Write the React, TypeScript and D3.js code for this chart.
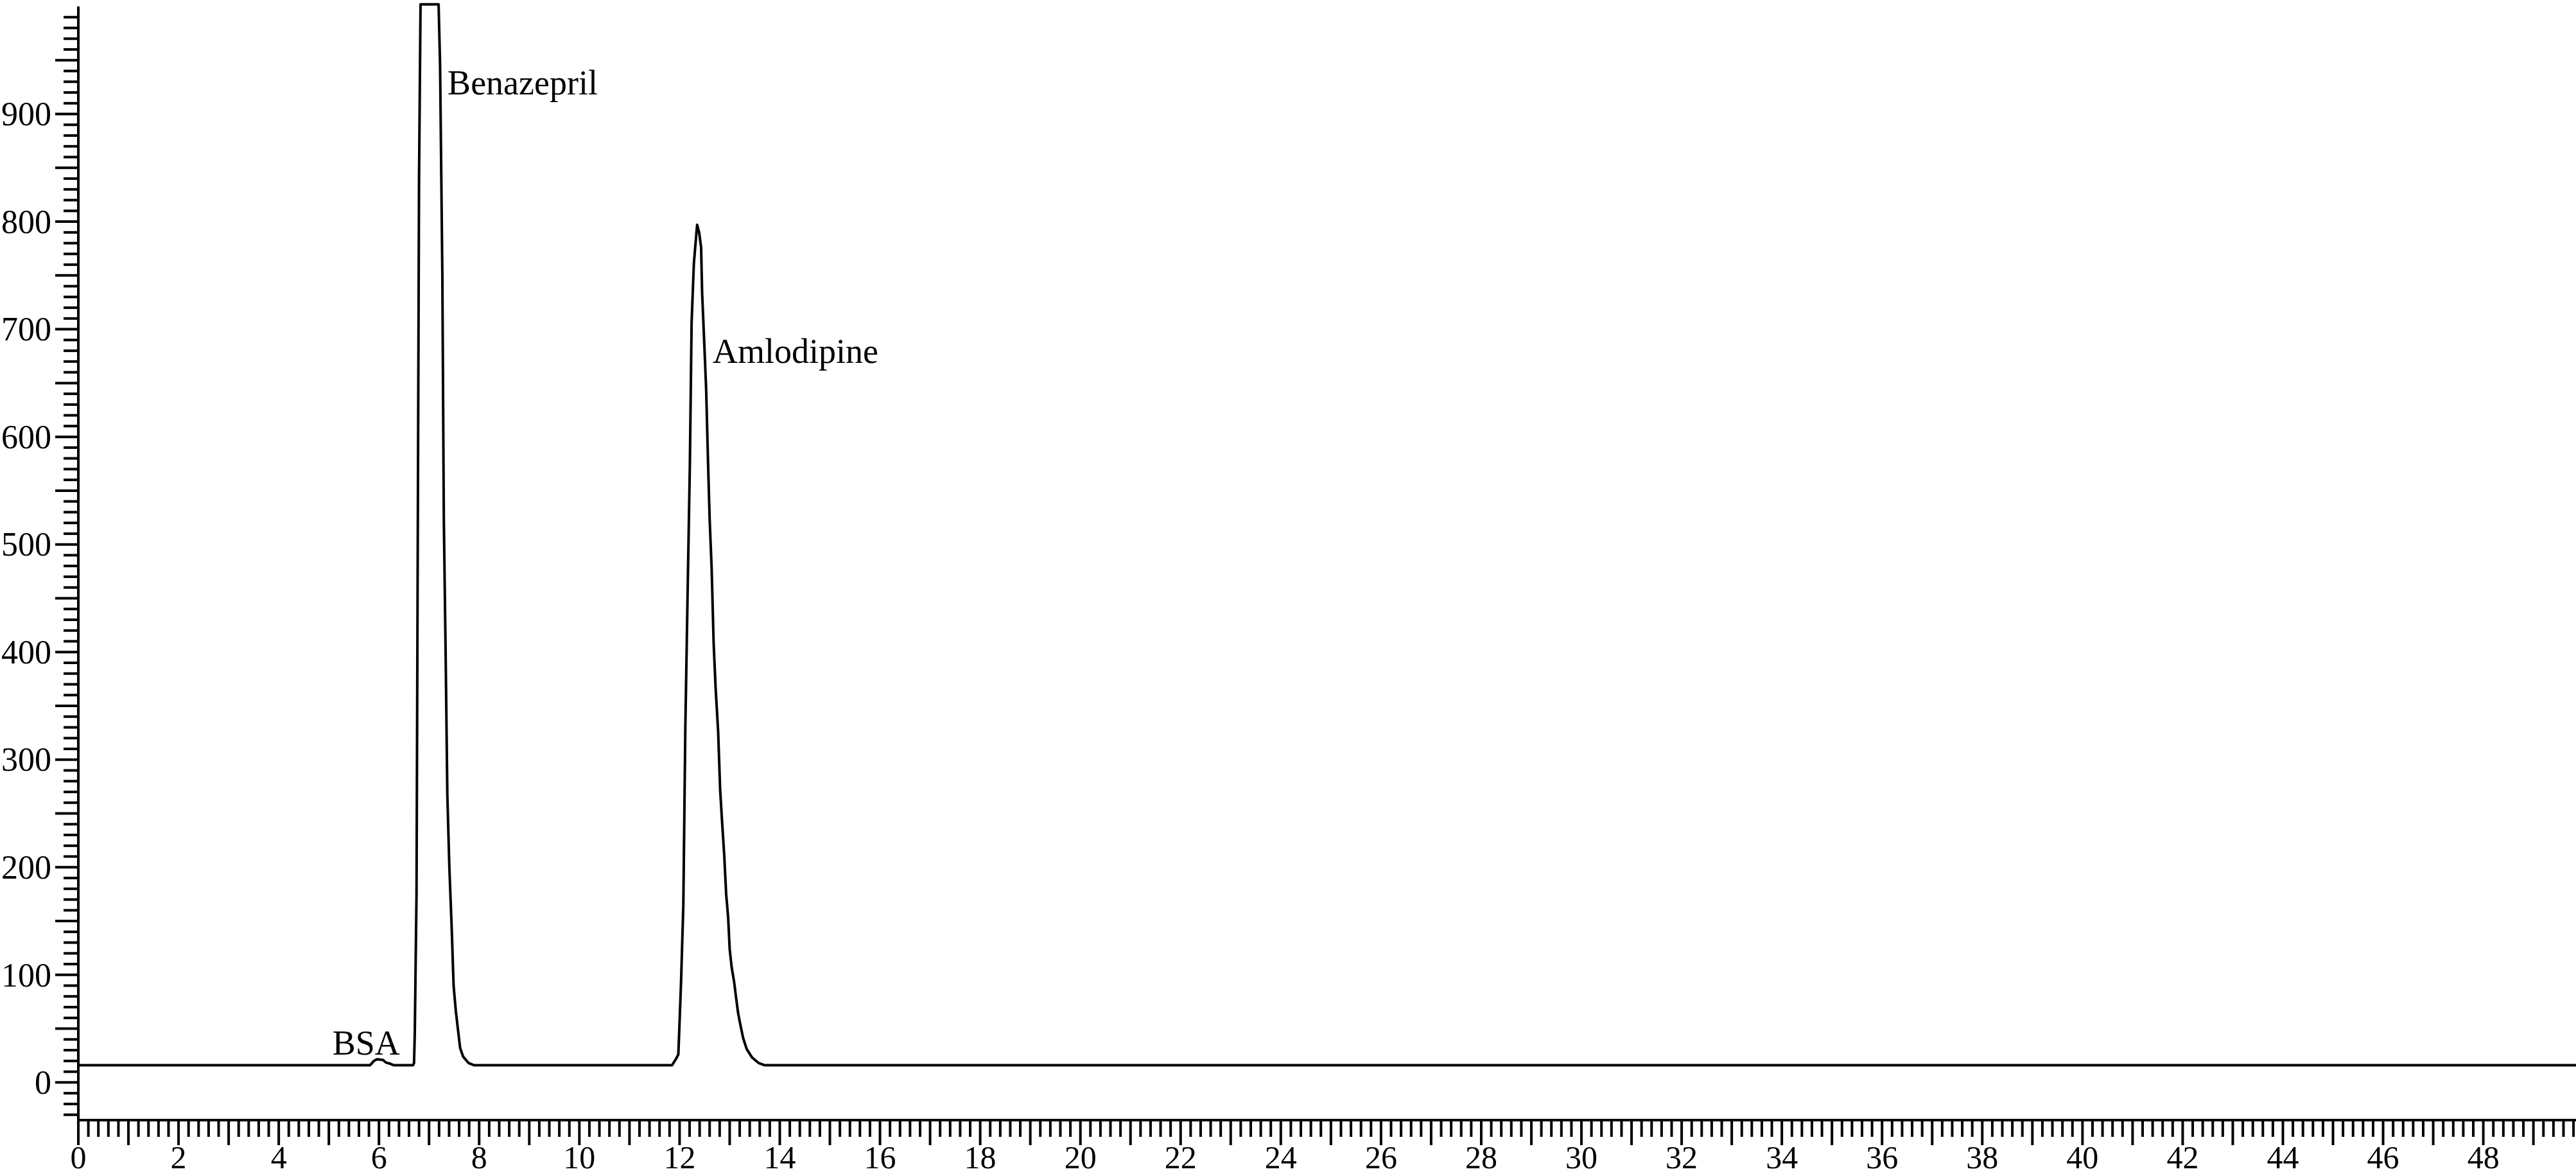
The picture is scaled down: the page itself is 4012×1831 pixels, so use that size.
import React from 'react';
import * as d3 from 'd3';

// retention time (min) and detector signal (mAU)
const times = [
  0, 5.82, 5.9, 5.96, 6.08, 6.14, 6.22, 6.3,
  6.68, 6.7, 6.715, 6.75, 6.8, 6.83,
  7.19, 7.22, 7.265, 7.295, 7.33, 7.365, 7.405, 7.45, 7.49, 7.535, 7.58, 7.62, 7.68, 7.79, 7.9,
  11.85, 11.93, 11.975, 11.995, 12.03, 12.075, 12.115, 12.16, 12.205, 12.24, 12.285, 12.33, 12.35,
  12.39, 12.43, 12.45, 12.49, 12.53, 12.57, 12.6, 12.64, 12.68, 12.72, 12.77, 12.81, 12.85, 12.89,
  12.93, 12.97, 13.0, 13.04, 13.09, 13.13, 13.17, 13.22, 13.27, 13.34, 13.45, 13.58, 13.7,
  49.85,
];
const signal = [
  16, 16, 20, 21.5, 21, 18.5, 17.5, 16,
  16, 18, 45, 176, 840, 1002,
  1002, 946, 752, 522, 402, 267, 200, 146, 90, 66, 48, 32, 24, 18, 16,
  16, 22, 26, 50, 94, 165, 330, 454, 573, 706, 761, 786, 797,
  790, 776, 734, 690, 645, 573, 524, 478, 408, 366, 326, 272, 241, 212,
  175, 153, 124, 107, 93, 78, 64, 52, 41, 31, 23, 18, 16,
  16,
];

const peakNames = ['BSA', 'Benazepril', 'Amlodipine'];
const peakLabelTime = [5.07, 7.37, 12.66];
const peakLabelValue = [26, 918, 669];

const xLabelTicks = d3.range(0, 49, 2);
const yLabelTicks = d3.range(0, 1000, 100);

const W = 4012;
const H = 1831;
const margin = { top: 10, right: 0, bottom: 87, left: 122 };

export default function App() {
  const x = d3.scaleLinear().domain([0, 49.85]).range([margin.left, W - margin.right]);
  const y = d3.scaleLinear().domain([-35, 1000]).range([H - margin.bottom, margin.top]);

  const pts = times.map((t, i) => [t, signal[i]] as [number, number]);
  const line = d3.line<[number, number]>().x(d => x(d[0])).y(d => y(d[1]));

  const xMinor = d3.range(0, 250).map(i => i / 5).filter(v => v <= 49.85);
  const yMinor = d3.range(-3, 100).map(i => i * 10);
  const x0 = x(0);
  const yBase = y(-35);
  const font = '"Liberation Serif", "Times New Roman", serif';

  return (
    <svg width={W} height={H} style={{ position: 'absolute', left: 0, top: 0, background: '#fff' }}>
      <rect width={W} height={H} fill="#fff" />
      {/* y axis */}
      <line x1={x0} x2={x0} y1={margin.top} y2={yBase + 2} stroke="#000" strokeWidth={4} />
      {yMinor.map(v => {
        const major = v % 50 === 0;
        return (
          <line key={'yt' + v} x1={x0 - (major ? 36 : 23)} x2={x0} y1={y(v)} y2={y(v)} stroke="#000" strokeWidth={4} />
        );
      })}
      {yLabelTicks.map(v => (
        <text key={'yl' + v} x={80} y={y(v)} dy="0.34em" textAnchor="end" fontFamily={font} fontSize={52} fill="#000">
          {v}
        </text>
      ))}
      {/* x axis */}
      <line x1={x0 - 2} x2={W} y1={yBase} y2={yBase} stroke="#000" strokeWidth={4} />
      {xMinor.map(v => {
        const major = Math.abs(v - Math.round(v)) < 1e-6;
        return (
          <line key={'xt' + v} x1={x(v)} x2={x(v)} y1={yBase} y2={yBase + (major ? 39 : 26)} stroke="#000" strokeWidth={4} />
        );
      })}
      {xLabelTicks.map(v => (
        <text key={'xl' + v} x={x(v)} y={1819} textAnchor="middle" fontFamily={font} fontSize={50} fill="#000">
          {v}
        </text>
      ))}
      {/* trace */}
      <path d={line(pts) ?? ''} fill="none" stroke="#000" strokeWidth={4} strokeLinejoin="round" />
      {peakNames.map((n, i) => (
        <text key={n} x={x(peakLabelTime[i])} y={y(peakLabelValue[i])} fontFamily={font} fontSize={54} fill="#000">
          {n}
        </text>
      ))}
    </svg>
  );
}
